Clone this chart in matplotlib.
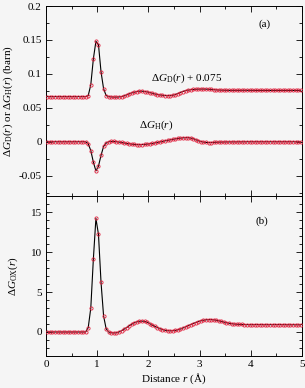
import numpy as np
import matplotlib
matplotlib.use("Agg")
import matplotlib.pyplot as plt
from matplotlib.ticker import MultipleLocator, FixedLocator, FixedFormatter

plt.rcParams['font.family'] = ['Liberation Serif', 'DejaVu Serif']
plt.rcParams['mathtext.fontset'] = 'custom'
plt.rcParams['mathtext.rm'] = 'Liberation Serif'
plt.rcParams['mathtext.it'] = 'Liberation Serif:italic'

# r grid (Å)
r = [0.025 + 0.05 * k for k in range(100)]

base_D = [0.0665] * 16
peak_D = [0.068, 0.084, 0.122, 0.148, 0.143, 0.103, 0.078, 0.068]
tail_D = [0.0665, 0.066, 0.0658, 0.0658, 0.066, 0.0665, 0.0675, 0.069, 0.0705, 0.072,
          0.073, 0.074, 0.0745, 0.0745, 0.074, 0.0735, 0.0725, 0.0715, 0.0705, 0.0695,
          0.069, 0.0685, 0.068, 0.068, 0.068, 0.0685, 0.0695, 0.071, 0.0725, 0.074,
          0.0752, 0.076, 0.0767, 0.077, 0.0773, 0.0775, 0.0776, 0.0776, 0.0775, 0.0773,
          0.077, 0.0767, 0.0764, 0.0762, 0.076, 0.0759, 0.0758, 0.0757, 0.0757, 0.0757,
          0.0757, 0.0757, 0.0758, 0.0758, 0.0758, 0.0757, 0.0757, 0.0756, 0.0756, 0.0756,
          0.0756, 0.0756, 0.0756, 0.0756, 0.0756, 0.0756, 0.0756, 0.0756, 0.0756, 0.0756,
          0.0756, 0.0756, 0.0756, 0.0756, 0.0756, 0.0756]
gD_shift = base_D + peak_D + tail_D

base_H = [0.0] * 16
peak_H = [-0.003, -0.013, -0.030, -0.043, -0.036, -0.020, -0.007, -0.002]
tail_H = [0.0, 0.0005, 0.0005, 0.0, -0.0005, -0.001, -0.0018, -0.0025, -0.003, -0.0035,
          -0.004, -0.0042, -0.0043, -0.0042, -0.004, -0.0035, -0.003, -0.0025, -0.0018, -0.001,
          -0.0003, 0.0005, 0.0013, 0.002, 0.0028, 0.0035, 0.0042, 0.0048, 0.0053, 0.0057,
          0.006, 0.006, 0.0055, 0.0045, 0.003, 0.0015, 0.0003, -0.0005, -0.001, -0.0012,
          -0.0012, -0.001, -0.0008, -0.0006, -0.0005, -0.0004, -0.0003, -0.0003, -0.0002, -0.0002,
          -0.0002, -0.0001, -0.0001, -0.0001, 0.0, 0.0, 0.0, 0.0, 0.0, 0.0,
          0.0, 0.0, 0.0, 0.0, 0.0, 0.0, 0.0, 0.0, 0.0, 0.0,
          0.0, 0.0, 0.0, 0.0, 0.0, 0.0]
gH = base_H + peak_H + tail_H

base_OX = [0.0] * 16
peak_OX = [0.55, 3.0, 9.1, 14.2, 12.2, 6.2, 2.0, 0.4]
tail_OX = [0.0, -0.1, -0.12, -0.1, 0.0, 0.15, 0.35, 0.55, 0.78, 0.98,
           1.15, 1.27, 1.34, 1.36, 1.32, 1.22, 1.05, 0.87, 0.70, 0.55,
           0.42, 0.30, 0.22, 0.17, 0.15, 0.16, 0.20, 0.27, 0.37, 0.50,
           0.63, 0.78, 0.92, 1.06, 1.18, 1.30, 1.40, 1.47, 1.52, 1.55,
           1.55, 1.52, 1.47, 1.40, 1.32, 1.24, 1.16, 1.10, 1.04, 1.00,
           0.97, 0.95, 0.94, 0.93, 0.92, 0.92, 0.92, 0.93, 0.93, 0.93,
           0.92, 0.92, 0.92, 0.92, 0.92, 0.93, 0.93, 0.93, 0.92, 0.92,
           0.91, 0.91, 0.91, 0.91, 0.90, 0.90]
gOX = base_OX + peak_OX + tail_OX

bg = '#f5f5f5'
red = '#e0203c'
fs = 8

fig = plt.figure(figsize=(3.05, 3.88), dpi=100, facecolor=bg)
ax1 = fig.add_axes([0.1508, 0.4948, 0.8393, 0.4897], facecolor=bg)
ax2 = fig.add_axes([0.1508, 0.0825, 0.8393, 0.4123], facecolor=bg)

mk = dict(ls='none', marker='o', ms=2.3, mfc='none', mec=red, mew=0.6, zorder=3)
for ys in (gD_shift, gH):
    ax1.plot(r, ys, color='black', lw=0.8, zorder=2)
    ax1.plot(r, ys, **mk)
ax2.plot(r, gOX, color='black', lw=0.8, zorder=2)
ax2.plot(r, gOX, **mk)

ax1.set_xlim(0, 5)
ax1.set_ylim(-0.08, 0.2)
ax2.set_xlim(0, 5)
ax2.set_ylim(-3, 17)

ytick1 = [-0.05, 0.0, 0.05, 0.1, 0.15, 0.2]
ylab1 = ['-0.05', '0', '0.05', '0.1', '0.15', '0.2']
ax1.yaxis.set_major_locator(FixedLocator(ytick1))
ax1.yaxis.set_major_formatter(FixedFormatter(ylab1))
ax1.yaxis.set_minor_locator(MultipleLocator(0.025))
ax1.xaxis.set_major_locator(MultipleLocator(1))
ax1.xaxis.set_minor_locator(MultipleLocator(0.5))
ax1.tick_params(labelbottom=False)

ax2.yaxis.set_major_locator(FixedLocator([0, 5, 10, 15]))
ax2.yaxis.set_minor_locator(MultipleLocator(1))
ax2.xaxis.set_major_locator(MultipleLocator(1))
ax2.xaxis.set_minor_locator(MultipleLocator(0.5))

for ax in (ax1, ax2):
    ax.tick_params(which='both', direction='in', top=True, right=True, labelsize=fs, pad=3, width=0.6)
    ax.tick_params(which='major', length=4)
    ax.tick_params(which='minor', length=2.2)
    for s in ax.spines.values():
        s.set_linewidth(0.7)

ax1.set_ylabel(r'$\Delta G_{\rm D}(r)$ or $\Delta G_{\rm H}(r)$ (barn)', fontsize=fs, labelpad=3)
ax2.set_ylabel(r'$\Delta G_{\rm OX}(r)$', fontsize=fs, labelpad=8)
ax2.set_xlabel(r'Distance $r$ (Å)', fontsize=fs, labelpad=2)

ax1.text(0.855, 0.905, '(a)', transform=ax1.transAxes, fontsize=fs, ha='center', va='center')
ax2.text(0.845, 0.84, '(b)', transform=ax2.transAxes, fontsize=fs, ha='center', va='center')
ax1.text(2.75, 0.094, r'$\Delta G_{\rm D}(r)$ + 0.075', fontsize=fs, ha='center', va='center')
ax1.text(2.15, 0.024, r'$\Delta G_{\rm H}(r)$', fontsize=fs, ha='center', va='center')

fig.savefig('out.png', dpi=100, facecolor=bg)
